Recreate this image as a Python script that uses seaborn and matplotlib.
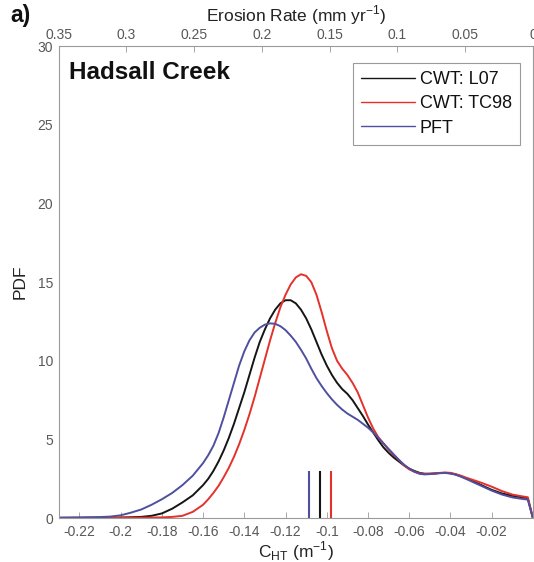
import matplotlib
matplotlib.use("Agg")
import matplotlib.pyplot as plt
import pandas as pd
import seaborn as sns

# Curvature grid (m^-1)
c_ht = [-0.23, -0.22, -0.21, -0.205, -0.2, -0.195, -0.19, -0.185, -0.18, -0.175,
        -0.17, -0.165, -0.16, -0.1575, -0.155, -0.1525, -0.15, -0.1475, -0.145, -0.1425,
        -0.14, -0.1375, -0.135, -0.1325, -0.13, -0.1275, -0.125, -0.1225, -0.12, -0.1175,
        -0.115, -0.1125, -0.11, -0.1075, -0.105, -0.1025, -0.1, -0.0975, -0.095, -0.0925,
        -0.09, -0.0875, -0.085, -0.0825, -0.08, -0.0775, -0.075, -0.0725, -0.07, -0.0675,
        -0.065, -0.0625, -0.06, -0.0575, -0.055, -0.0525, -0.05, -0.0475, -0.045, -0.0425,
        -0.04, -0.0375, -0.035, -0.0325, -0.03, -0.025, -0.02, -0.015, -0.01, -0.005,
        -0.0025, 0.0]

# PDF estimates for each method on that grid
pdf_l07 = [0.02, 0.02, 0.03, 0.03, 0.04, 0.06, 0.08, 0.15, 0.30, 0.60,
           1.00, 1.45, 2.10, 2.50, 3.00, 3.60, 4.30, 5.10, 6.00, 7.00,
           8.00, 9.10, 10.2, 11.2, 12.0, 12.7, 13.25, 13.65, 13.85, 13.85,
           13.65, 13.25, 12.7, 12.0, 11.2, 10.4, 9.70, 9.10, 8.60, 8.20,
           7.90, 7.50, 7.00, 6.50, 5.95, 5.45, 4.95, 4.50, 4.15, 3.85,
           3.60, 3.35, 3.15, 3.00, 2.88, 2.82, 2.82, 2.84, 2.87, 2.88,
           2.85, 2.78, 2.67, 2.53, 2.40, 2.10, 1.80, 1.57, 1.42, 1.32,
           1.27, 0.0]

pdf_tc98 = [0.02, 0.02, 0.02, 0.02, 0.03, 0.03, 0.03, 0.04, 0.05, 0.08,
            0.15, 0.40, 0.85, 1.20, 1.60, 2.05, 2.60, 3.20, 3.90, 4.70,
            5.60, 6.60, 7.70, 8.90, 10.1, 11.3, 12.4, 13.4, 14.2, 14.85,
            15.3, 15.5, 15.4, 15.0, 14.2, 13.1, 11.9, 10.8, 10.0, 9.50,
            9.10, 8.60, 8.00, 7.20, 6.40, 5.70, 5.15, 4.75, 4.35, 4.00,
            3.70, 3.35, 3.10, 2.95, 2.85, 2.82, 2.83, 2.85, 2.88, 2.90,
            2.88, 2.80, 2.70, 2.58, 2.47, 2.25, 2.00, 1.72, 1.50, 1.38,
            1.33, 0.0]

pdf_pft = [0.03, 0.05, 0.07, 0.10, 0.18, 0.35, 0.55, 0.85, 1.20, 1.60,
           2.10, 2.70, 3.50, 4.00, 4.60, 5.40, 6.40, 7.50, 8.60, 9.70,
           10.6, 11.3, 11.8, 12.1, 12.3, 12.38, 12.35, 12.2, 11.95, 11.6,
           11.2, 10.7, 10.15, 9.50, 8.90, 8.40, 7.95, 7.55, 7.20, 6.90,
           6.65, 6.45, 6.25, 6.00, 5.75, 5.45, 5.10, 4.75, 4.40, 4.05,
           3.70, 3.40, 3.15, 2.95, 2.82, 2.78, 2.80, 2.83, 2.86, 2.87,
           2.84, 2.76, 2.64, 2.50, 2.35, 2.05, 1.75, 1.50, 1.32, 1.22,
           1.18, 0.0]

methods = ["CWT: L07", "CWT: TC98", "PFT"]
colors = ["#151515", "#e4312b", "#4f4f9f"]
# Representative C_HT value of each method (short vertical markers)
c_ht_marker = [-0.1033, -0.0981, -0.1085]
marker_height = 3.0

x_ticks = [-0.22, -0.2, -0.18, -0.16, -0.14, -0.12, -0.1, -0.08, -0.06, -0.04, -0.02]
x_tick_labels = ["-0.22", "-0.2", "-0.18", "-0.16", "-0.14", "-0.12", "-0.1",
                 "-0.08", "-0.06", "-0.04", "-0.02"]
y_ticks = [0, 5, 10, 15, 20, 25, 30]
e_ticks = [0.35, 0.3, 0.25, 0.2, 0.15, 0.1, 0.05, 0]
e_tick_labels = ["0.35", "0.3", "0.25", "0.2", "0.15", "0.1", "0.05", "0"]

n = len(c_ht)
df = pd.DataFrame({
    "C_HT": c_ht * 3,
    "PDF": pdf_l07 + pdf_tc98 + pdf_pft,
    "method": [methods[0]] * n + [methods[1]] * n + [methods[2]] * n,
})

sns.set_theme(style="white")
plt.rcParams["font.family"] = ["Liberation Sans", "DejaVu Sans"]
plt.rcParams["mathtext.fontset"] = "custom"
plt.rcParams["mathtext.rm"] = "Liberation Sans"

tick_col = "#585858"
spine_col = "#9a9a9a"

fig = plt.figure(figsize=(5.34, 5.62), dpi=100)
ax = fig.add_axes([0.110, 0.078, 0.888, 0.840])

sns.lineplot(data=df, x="C_HT", y="PDF", hue="method", hue_order=methods,
             palette=colors, linewidth=1.4, ax=ax, sort=False, estimator=None)

for c, col in zip(c_ht_marker, colors):
    ax.vlines(c, 0, marker_height, color=col, linewidth=1.5)

ax.set_xlim(-0.23, 0.0)
ax.set_ylim(0, 30)
ax.set_xticks(x_ticks)
ax.set_xticklabels(x_tick_labels)
ax.set_yticks(y_ticks)
ax.tick_params(axis="both", direction="in", length=4, width=0.6, color=spine_col,
               labelsize=10, labelcolor=tick_col, pad=4)
ax.tick_params(axis="x", pad=5)
for s in ax.spines.values():
    s.set_color(spine_col)
    s.set_linewidth(0.8)

ax.set_xlabel(r"C$_{\mathregular{HT}}$ (m$^{\mathregular{-1}}$)", fontsize=12.5,
              color="#222222", labelpad=0)
ax.set_ylabel("PDF", fontsize=12.5, color="#222222", labelpad=7)

# Erosion-rate scale along the top
ax2 = ax.twiny()
ax2.set_xlim(0.35, 0.0)
ax2.set_xticks(e_ticks)
ax2.set_xticklabels(e_tick_labels)
ax2.tick_params(axis="x", direction="in", length=4, width=0.6, color=spine_col,
                labelsize=10, labelcolor=tick_col, pad=3)
for s in ax2.spines.values():
    s.set_visible(False)
ax2.set_xlabel(r"Erosion Rate (mm yr$^{\mathregular{-1}}$)", fontsize=12.5,
               color="#222222", labelpad=5)

ax.text(0.022, 0.943, "Hadsall Creek", transform=ax.transAxes, fontsize=17.5,
        fontweight="bold", color="#111111", ha="left", va="center")
fig.text(0.02, 0.972, "a)", fontsize=16.5, fontweight="bold", color="#111111",
         ha="left", va="center")

leg = ax.legend(loc="upper right", bbox_to_anchor=(0.973, 0.964), borderaxespad=0,
                fontsize=13, handlelength=3.0, handletextpad=0.25, borderpad=0.45,
                labelspacing=0.4, frameon=True, fancybox=False,
                edgecolor=spine_col, framealpha=1)
for line in leg.get_lines():
    line.set_linewidth(1.0)
leg.get_frame().set_linewidth(0.8)
for t in leg.get_texts():
    t.set_color("#111111")

fig.savefig("out.png", dpi=100, facecolor="white")
